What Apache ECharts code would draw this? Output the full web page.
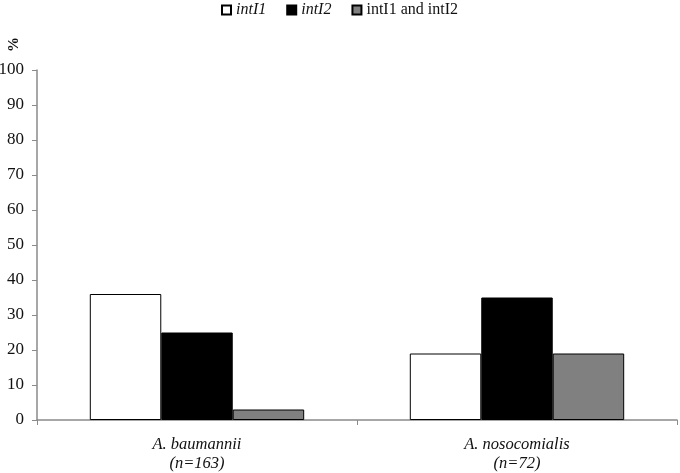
<!DOCTYPE html>
<html>
<head>
<meta charset="utf-8">
<script src="https://cdn.jsdelivr.net/npm/echarts@6/dist/echarts.min.js"></script>
<style>
  html, body { margin: 0; padding: 0; background: #fff; }
  #chart { width: 680px; height: 473px; }
</style>
</head>
<body>
<div id="chart"></div>
<script>
// data
const categories = ['A. baumannii\n(n=163)', 'A. nosocomialis\n(n=72)'];
const seriesNames = ['intI1', 'intI2', 'intI1 and intI2'];
const intI1 = [36, 19];
const intI2 = [25, 35];
const both = [3, 19];
const barColors = ['#ffffff', '#000000', '#808080'];

const font = 'Liberation Serif, Times New Roman, serif';
const chart = echarts.init(document.getElementById('chart'));

const values = [intI1, intI2, both];
const option = {
  animation: false,
  textStyle: { fontFamily: font },
  legend: {
    top: -3,
    left: 216,
    icon: 'rect',
    itemWidth: 9,
    itemHeight: 9,
    itemGap: 20,
    textStyle: {
      fontFamily: font, fontSize: 16, color: '#111',
      rich: { i: { fontFamily: font, fontSize: 16, fontStyle: 'italic', color: '#111' } }
    },
    formatter: name => name === 'intI1 and intI2' ? name : '{i|' + name + '}',
    data: seriesNames
  },
  // the "%" axis title, rotated like the reference
  graphic: [{
    type: 'text',
    left: 7,
    top: 37,
    rotation: Math.PI / 2,
    style: { text: '%', font: 'bold 15px ' + font, fill: '#111' }
  }],
  grid: { left: 37, right: 3, top: 70, bottom: 53, containLabel: false, outerBoundsMode: 'none' },
  xAxis: {
    type: 'category',
    data: categories,
    axisLine: { lineStyle: { color: '#8a8a8a', width: 1.5 } },
    axisTick: { show: true, length: 5, lineStyle: { color: '#8a8a8a' } },
    axisLabel: {
      fontFamily: font, fontSize: 16.5, fontStyle: 'italic', color: '#111',
      lineHeight: 19, margin: 15
    }
  },
  yAxis: {
    type: 'value',
    min: 0, max: 100, interval: 10,
    axisLine: { show: true, lineStyle: { color: '#8a8a8a', width: 1.5 } },
    axisTick: { show: true, length: 5, lineStyle: { color: '#8a8a8a' } },
    axisLabel: { fontFamily: font, fontSize: 17, color: '#111', margin: 13 },
    splitLine: { show: false }
  },
  series: seriesNames.map((name, i) => ({
    name: name,
    type: 'bar',
    data: values[i],
    barGap: '0%',
    barCategoryGap: '33%',
    itemStyle: { color: barColors[i], borderColor: '#000', borderWidth: 1 }
  }))
};
chart.setOption(option);
</script>
</body>
</html>
